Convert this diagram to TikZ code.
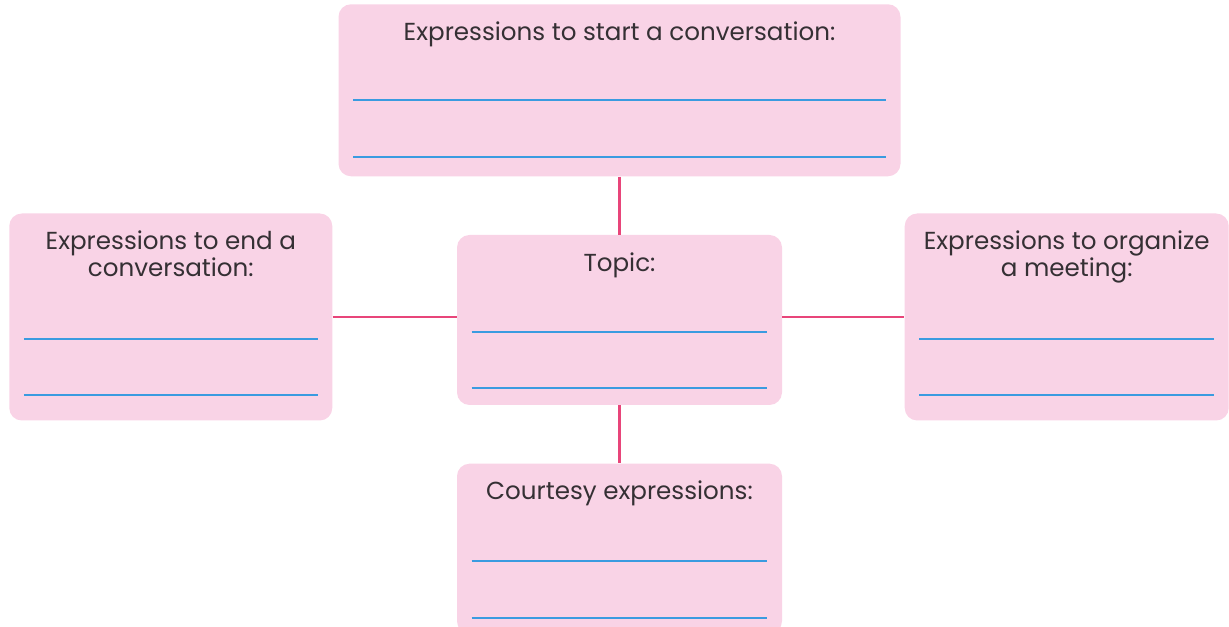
\documentclass[tikz,border=0pt]{standalone}
\usepackage{fontspec}
\setmainfont{Poppins}
\usepackage{tikz}
\usetikzlibrary{positioning,calc}
\definecolor{boxpink}{HTML}{F9D3E6}
\definecolor{linkred}{HTML}{E8457A}
\definecolor{rulerblue}{HTML}{3A9BE0}
\definecolor{textgray}{HTML}{353034}
\newcommand{\blanks}[3]{%
  \draw[blank] ($(#1.south west)+(0.3,#2)$) -- ($(#1.south east)+(-0.3,#2)$);
  \draw[blank] ($(#1.south west)+(0.3,#3)$) -- ($(#1.south east)+(-0.3,#3)$);}
\tikzset{
  rectnode/.style args={#1,#2}{
  rounded corners=2.5mm,
  fill=boxpink,
  inner sep=0pt,
  minimum width=#1 cm,
  minimum height=#2 cm,
  },
  headtext/.style={inner sep=0pt,align=center,text=textgray,
    font=\fontsize{14}{15.4}\selectfont},
  link/.style={draw=linkred,line width=1.3pt},
  blank/.style={draw=rulerblue,line width=1.2pt}
}
\begin{document}
\begin{tikzpicture}
  \useasboundingbox (0,0) rectangle (24.58,-12.54);
  \begin{scope}
  \clip (0,0) rectangle (24.58,-12.54);
  \node [rectnode={6.5,3.4}] (topic) at (12.39,-6.4) {};
  \node [rectnode={11.24,3.44},above=1.16cm of topic] (start) {};
  \node [rectnode={6.46,4.14},left=2.48cm of topic,yshift=0.06cm] (finish) {};
  \node [rectnode={6.48,4.14},right=2.44cm of topic,yshift=0.06cm] (meeting) {};
  \node [rectnode={6.5,3.4},below=1.16cm of topic] (courtesy) {};

  \node [headtext,below=0.35cm of start.north] (t1) {Expressions to start a conversation:};
  \node [headtext,below=0.35cm of finish.north] (t2) {Expressions to end a\\conversation:};
  \node [headtext,below=0.35cm of topic.north] (t3) {Topic:};
  \node [headtext,below=0.35cm of meeting.north] (t4) {Expressions to organize\\a meeting:};
  \node [headtext,below=0.35cm of courtesy.north] (t5) {Courtesy expressions:};

  \blanks{start}{1.54}{0.4}
  \blanks{finish}{1.64}{0.52}
  \blanks{topic}{1.46}{0.34}
  \blanks{meeting}{1.64}{0.52}
  \blanks{courtesy}{1.46}{0.32}
  \end{scope}

  \draw[link] (start) -- (topic);
  \draw[link] (topic) -- (courtesy);
  \draw[link] (finish.east) -- (finish.east -| topic.west);
  \draw[link] (finish.east -| topic.east) -- (finish.east -| meeting.west);
\end{tikzpicture}
\end{document}
